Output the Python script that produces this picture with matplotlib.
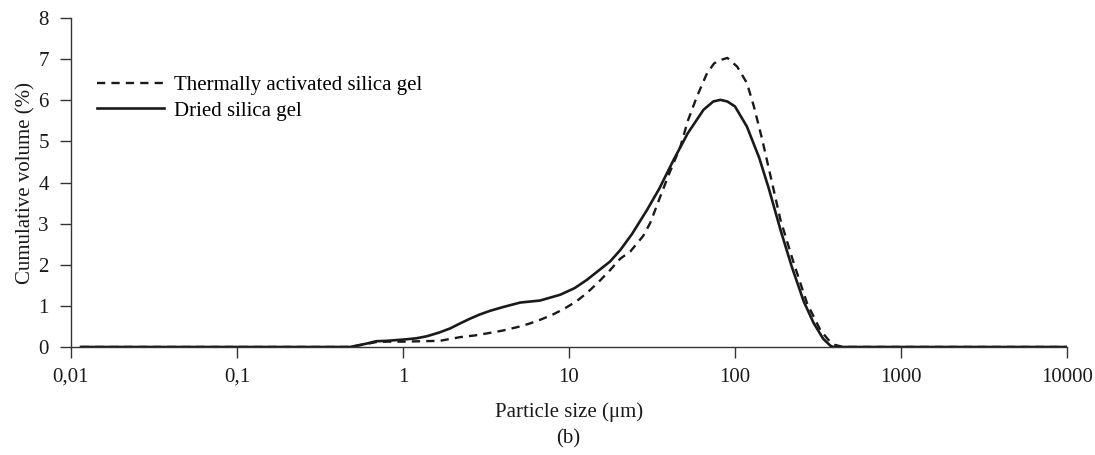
import matplotlib.pyplot as plt
import numpy as np

plt.rcParams['font.family'] = ['Liberation Serif', 'DejaVu Serif']

# particle size (um) and volume (%) read for each sample
dried_size = [0.0115, 0.1, 0.48, 0.6, 0.69, 0.8, 1.0, 1.2, 1.39, 1.65, 1.92, 2.2, 2.54, 2.9,
              3.35, 4.0, 5.08, 6.7, 8.85, 10.8, 12.8, 15.0, 17.7, 20.4, 24.0, 29.5,
              35.0, 42.7, 52.0, 64.7, 74.0, 81.7, 90.0, 100.0, 118.0, 140.0, 160.0,
              188.0, 220.0, 260.0, 298.0, 340.0, 376.0, 395.0, 430.0, 1000.0, 10000.0]
dried_vol = [0.0, 0.0, 0.0, 0.08, 0.14, 0.15, 0.18, 0.21, 0.26, 0.35, 0.45, 0.57, 0.69, 0.79,
             0.88, 0.97, 1.08, 1.13, 1.27, 1.43, 1.63, 1.85, 2.08, 2.36, 2.75, 3.33,
             3.85, 4.55, 5.2, 5.77, 5.97, 6.01, 5.97, 5.85, 5.36, 4.6, 3.85,
             2.85, 1.95, 1.1, 0.58, 0.2, 0.03, -0.01, 0.0, 0.0, 0.0]

thermal_size = [0.0115, 0.1, 0.48, 0.6, 0.69, 0.8, 1.0, 1.3, 1.67, 2.21, 2.7, 3.2, 4.0, 4.85,
                5.7, 6.7, 8.0, 9.27, 11.0, 12.8, 15.0, 17.7, 20.4, 23.4, 28.0, 30.9,
                35.5, 40.0, 46.9, 52.0, 59.0, 67.9, 75.0, 82.0, 90.0, 103.0, 118.0,
                130.0, 146.0, 165.0, 188.0, 226.0, 272.0, 327.0, 366.0, 400.0, 450.0,
                1000.0, 10000.0]
thermal_vol = [0.0, 0.0, 0.0, 0.07, 0.12, 0.13, 0.13, 0.14, 0.15, 0.24, 0.28, 0.33, 0.4, 0.48,
               0.56, 0.66, 0.79, 0.92, 1.1, 1.31, 1.57, 1.87, 2.15, 2.32, 2.7, 3.02,
               3.66, 4.2, 4.87, 5.5, 6.09, 6.66, 6.9, 6.98, 7.03, 6.82, 6.42,
               5.85, 5.04, 4.1, 3.09, 2.04, 1.06, 0.41, 0.17, 0.05, 0.0,
               0.0, 0.0]

xticks = [0.01, 0.1, 1, 10, 100, 1000, 10000]
xlabels = ['0,01', '0,1', '1', '10', '100', '1000', '10000']

fig = plt.figure(figsize=(10.95, 4.55), dpi=100)
ax = fig.add_axes([0.0648, 0.2374, 0.9096, 0.7230])

ax.plot(thermal_size, thermal_vol, color='#1a1a1a', lw=1.7, ls=(0, (3.5, 2.6)),
        label='Thermally activated silica gel')
ax.plot(dried_size, dried_vol, color='#1a1a1a', lw=1.9, label='Dried silica gel')

ax.set_xscale('log')
ax.set_xlim(0.01, 10000)
ax.set_ylim(0, 8)
ax.set_xticks(xticks)
ax.set_xticklabels(xlabels)
ax.xaxis.set_minor_locator(plt.NullLocator())
ax.set_yticks(range(0, 9))

for s in ['top', 'right']:
    ax.spines[s].set_visible(False)
for s in ['left', 'bottom']:
    ax.spines[s].set_color('#333333')
    ax.spines[s].set_linewidth(1.0)

ax.tick_params(axis='both', direction='out', length=8, width=1.0, color='#333333',
               labelsize=15, labelcolor='#1a1a1a')
ax.tick_params(axis='x', pad=7)
ax.tick_params(axis='y', pad=8)

ax.set_ylabel('Cumulative volume (%)', fontsize=15, color='#1a1a1a', labelpad=2)
ax.set_xlabel('Particle size (μm)', fontsize=15, color='#1a1a1a', labelpad=11)
fig.text(0.519, 0.036, '(b)', fontsize=15, color='#1a1a1a', ha='center', va='center')

ax.legend(loc='upper left', bbox_to_anchor=(0.012, 0.87), frameon=False, fontsize=15,
          handlelength=3.2, handletextpad=0.45, labelspacing=0.3, borderaxespad=0.3)

fig.savefig('out.png', dpi=100)
